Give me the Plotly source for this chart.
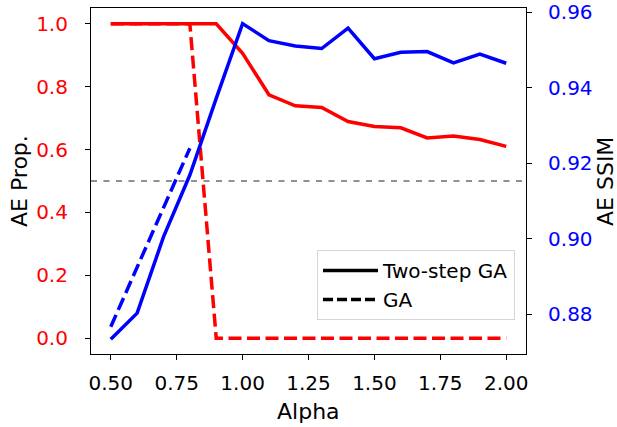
import plotly.graph_objects as go

alpha = [0.5, 0.6, 0.7, 0.8, 0.9, 1.0, 1.1, 1.2, 1.3, 1.4, 1.5, 1.6, 1.7, 1.8, 1.9, 2.0]

# AE proportion (left axis)
prop_two_step = [1.0, 1.0, 1.0, 1.0, 1.0, 0.906, 0.774, 0.739, 0.734, 0.689, 0.673,
                 0.669, 0.637, 0.643, 0.632, 0.610]
prop_ga = [1.0, 1.0, 1.0, 1.0, 0.0, 0.0, 0.0, 0.0, 0.0, 0.0, 0.0, 0.0, 0.0, 0.0, 0.0, 0.0]

# AE SSIM (right axis)
ssim_two_step = [0.8734, 0.8803, 0.9005, 0.9169, 0.9372, 0.9570, 0.9525, 0.9511, 0.9504,
                 0.9558, 0.9477, 0.9494, 0.9496, 0.9466, 0.9489, 0.9465]
ssim_ga_alpha = [0.5, 0.6, 0.7, 0.8]
ssim_ga = [0.8767, 0.8925, 0.9082, 0.9240]

threshold = 0.5

x_ticks = [0.5, 0.75, 1.0, 1.25, 1.5, 1.75, 2.0]
left_ticks = [0.0, 0.2, 0.4, 0.6, 0.8, 1.0]
right_ticks = [0.88, 0.90, 0.92, 0.94, 0.96]

RED = "#ff0000"
BLUE = "#0000ff"
LW = 3.5
DASH = "13px,5.5px"
FONT = "DejaVu Sans"

fig = go.Figure()

fig.add_trace(go.Scatter(x=alpha, y=prop_two_step, mode="lines",
                         line=dict(color=RED, width=LW), showlegend=False, yaxis="y"))
fig.add_trace(go.Scatter(x=alpha, y=prop_ga, mode="lines",
                         line=dict(color=RED, width=LW, dash=DASH), showlegend=False, yaxis="y"))
fig.add_trace(go.Scatter(x=alpha, y=ssim_two_step, mode="lines",
                         line=dict(color=BLUE, width=LW), showlegend=False, yaxis="y2"))
fig.add_trace(go.Scatter(x=ssim_ga_alpha, y=ssim_ga, mode="lines",
                         line=dict(color=BLUE, width=LW, dash=DASH), showlegend=False, yaxis="y2"))

# legend entries
fig.add_trace(go.Scatter(x=[None], y=[None], mode="lines", name="Two-step GA",
                         line=dict(color="black", width=LW), yaxis="y2"))
fig.add_trace(go.Scatter(x=[None], y=[None], mode="lines", name="GA",
                         line=dict(color="black", width=LW, dash="10px,4px"), yaxis="y2"))

fig.add_shape(type="line", xref="paper", yref="y", x0=0, x1=1, y0=threshold, y1=threshold,
              line=dict(color="#222222", width=1, dash="6px,6.5px"), layer="below")

axis_common = dict(showline=True, linecolor="black", linewidth=1.1, ticks="outside",
                   ticklen=5, tickwidth=1.1, tickcolor="black", showgrid=False,
                   zeroline=False, automargin=False)

fig.update_layout(
    width=617, height=427,
    margin=dict(l=91, r=91, t=8, b=73),
    paper_bgcolor="white", plot_bgcolor="white",
    font=dict(family=FONT, size=20, color="black"),
    xaxis=dict(range=[0.425, 2.075], tickvals=x_ticks, tickformat=".2f",
               mirror=True, ticklabelstandoff=6, **axis_common),
    yaxis=dict(range=[-0.05, 1.05], tickvals=left_ticks, tickformat=".1f",
               tickfont=dict(color=RED), ticklabelstandoff=13, **axis_common),
    yaxis2=dict(range=[0.86948, 0.96114], tickvals=right_ticks, tickformat=".2f",
                overlaying="y", side="right", tickfont=dict(color=BLUE),
                ticklabelstandoff=12, **axis_common),
    legend=dict(x=0.9747, y=0.0983, xanchor="right", yanchor="bottom",
                bgcolor="rgba(255,255,255,0.8)", bordercolor="#d6d6d6", borderwidth=1,
                font=dict(size=20), itemwidth=55),
)

# axis titles
fig.add_annotation(text="Alpha", xref="paper", yref="paper", x=0.5, y=-0.1676,
                   xanchor="center", yanchor="middle", showarrow=False, font=dict(size=22))
fig.add_annotation(text="AE Prop.", xref="paper", yref="paper", x=-0.1655, y=0.5,
                   xanchor="center", yanchor="middle", showarrow=False, textangle=-90,
                   font=dict(size=22))
fig.add_annotation(text="AE SSIM", xref="paper", yref="paper", x=1.1816, y=0.5,
                   xanchor="center", yanchor="middle", showarrow=False, textangle=-90,
                   font=dict(size=22))

fig.write_html("out.html", config={"displayModeBar": False},
               post_script="document.body.style.margin='0px';")
